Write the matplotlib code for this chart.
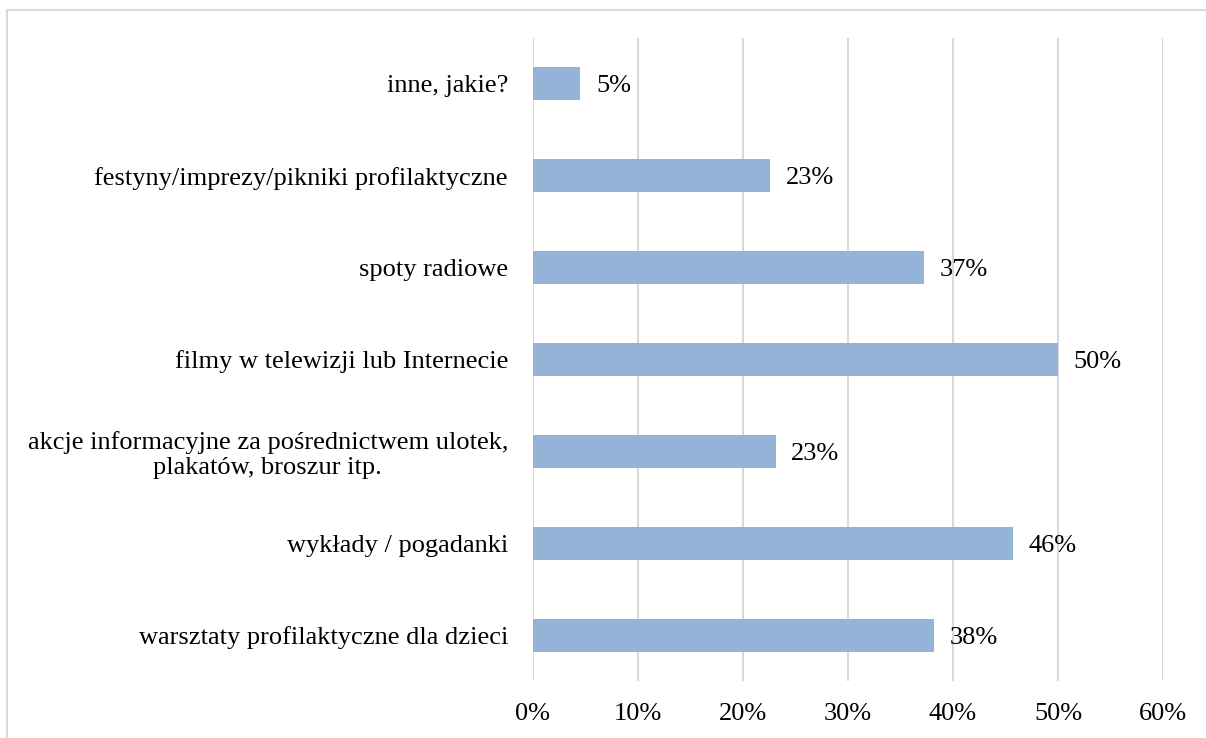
import numpy as np
import matplotlib.pyplot as plt
from matplotlib.lines import Line2D

categories = [
    'warsztaty profilaktyczne dla dzieci',
    'wykłady / pogadanki',
    'akcje informacyjne za pośrednictwem ulotek,\nplakatów, broszur itp.',
    'filmy w telewizji lub Internecie',
    'spoty radiowe',
    'festyny/imprezy/pikniki profilaktyczne',
    'inne, jakie?',
]
values = [38.2, 45.7, 23.1, 50.0, 37.2, 22.6, 4.5]
value_labels = ['38%', '46%', '23%', '50%', '37%', '23%', '5%']
xticks = [0, 10, 20, 30, 40, 50, 60]


def plot_bars():
    plt.rcParams['font.family'] = ['Liberation Serif', 'DejaVu Serif']
    fig = plt.figure(figsize=(12.06, 7.38), dpi=100)
    ax = fig.add_axes([533 / 1206, 1 - 681 / 738, 630 / 1206, 643 / 738])

    y = np.arange(len(categories))
    ax.barh(y, values, height=0.36, color='#95B3D7', zorder=2)
    for yi, v, lab in zip(y, values, value_labels):
        ax.text(v + 1.5, yi, lab, va='center_baseline', ha='left', fontsize=19)

    ax.set_ylim(-0.5, len(categories) - 0.5)
    ax.set_xlim(0, 60)
    ax.set_xticks(xticks)
    ax.set_xticklabels([f'{t}%' for t in xticks])
    ax.set_yticks(y)
    ax.set_yticklabels(categories, multialignment='center', linespacing=1.15)
    ax.tick_params(axis='both', length=0, labelsize=19)
    ax.tick_params(axis='x', pad=16)
    ax.tick_params(axis='y', pad=18)
    ax.grid(axis='x', color='#d9d9d9', linewidth=1.5, zorder=0)
    for s in ax.spines.values():
        s.set_visible(False)

    # outer frame (top and left only visible)
    fig.add_artist(Line2D([6.5 / 1206, 1], [1 - 9.5 / 738, 1 - 9.5 / 738],
                          color='#d9d9d9', linewidth=1.5))
    fig.add_artist(Line2D([6.5 / 1206, 6.5 / 1206], [0, 1 - 9.5 / 738],
                          color='#d9d9d9', linewidth=1.5))

    fig.savefig('out.png', dpi=100)


if __name__ == '__main__':
    plot_bars()
